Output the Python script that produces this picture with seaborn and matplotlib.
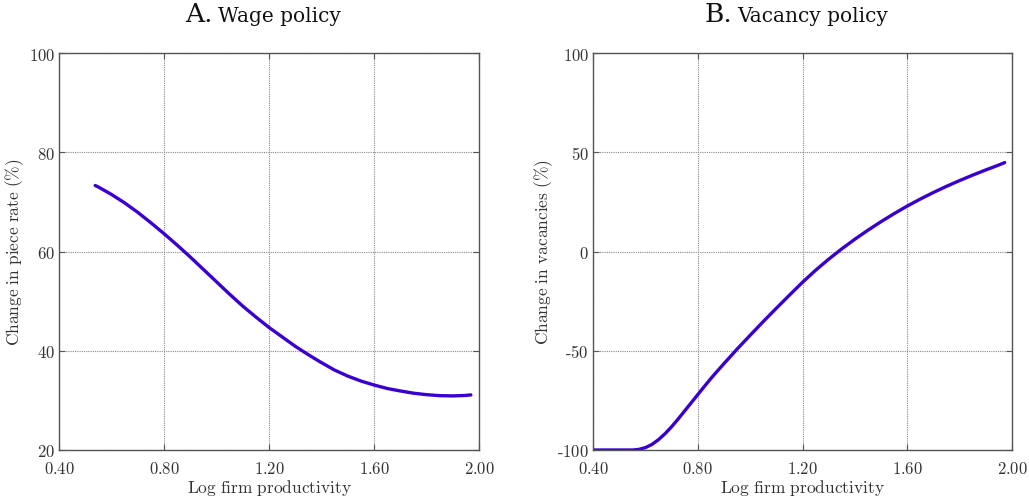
import numpy as np
import pandas as pd
import matplotlib
matplotlib.use("Agg")
import matplotlib.pyplot as plt
import seaborn as sns
from matplotlib.ticker import FixedLocator, FixedFormatter

# ---- data ----
wage_x = [0.538, 0.55, 0.60, 0.65, 0.70, 0.75, 0.80, 0.85, 0.90, 0.95, 1.00, 1.05,
          1.10, 1.15, 1.20, 1.25, 1.30, 1.35, 1.40, 1.45, 1.50, 1.55, 1.60, 1.65,
          1.70, 1.75, 1.80, 1.85, 1.90, 1.95, 1.969]
wage_y = [73.3, 73.0, 71.5, 69.8, 67.9, 65.8, 63.6, 61.3, 58.9, 56.4, 53.9, 51.4,
          49.0, 46.8, 44.7, 42.8, 40.9, 39.2, 37.6, 36.1, 34.9, 33.9, 33.1, 32.4,
          31.9, 31.45, 31.15, 30.95, 30.9, 31.0, 31.1]

vac_x = [0.40, 0.48, 0.553, 0.575, 0.60, 0.625, 0.65, 0.675, 0.70, 0.725, 0.75, 0.775,
         0.80, 0.825, 0.85, 0.875, 0.90, 0.95, 1.00, 1.05, 1.10, 1.15, 1.20, 1.25,
         1.30, 1.35, 1.40, 1.45, 1.50, 1.55, 1.60, 1.65, 1.70, 1.75, 1.80, 1.85,
         1.90, 1.95, 1.972]
vac_y = [-100.0, -100.0, -100.0, -99.7, -98.8, -97.2, -94.8, -91.8, -88.3, -84.4, -80.3, -76.2,
         -72.1, -68.0, -64.0, -60.2, -56.5, -49.2, -42.2, -35.3, -28.6, -22.0, -15.5, -9.45,
         -3.85, 1.35, 6.2, 10.75, 15.05, 19.1, 22.9, 26.45, 29.75, 32.85, 35.75, 38.5,
         41.1, 43.6, 44.8]

x_ticks = [0.40, 0.80, 1.20, 1.60, 2.00]
x_tick_labels = ["0.40", "0.80", "1.20", "1.60", "2.00"]
wage_ticks = [20, 40, 60, 80, 100]
wage_tick_labels = ["20", "40", "60", "80", "100"]
vac_ticks = [-100, -50, 0, 50, 100]
vac_tick_labels = ["-100", "-50", "0", "50", "100"]

panel_letters = ["A.", "B."]
panel_titles = ["Wage policy", "Vacancy policy"]
y_labels = ["Change in piece rate (%)", "Change in vacancies (%)"]
x_label = "Log firm productivity"


def cm(s):
    """Render plain text in Computer Modern via mathtext (hyphen kept short)."""
    s = s.replace("%", r"\%").replace(" ", r"\ ").replace("-", r"\text{-}")
    return r"$\mathrm{" + s + "}$"


sns.set_style("ticks")
plt.rcParams["font.family"] = ["DejaVu Serif"]
plt.rcParams["mathtext.fontset"] = "cm"

line_color = "#3a00d2"
spine_color = "#555555"
text_color = "#333333"

fig = plt.figure(figsize=(10.29, 5.02), dpi=100)
ax1 = fig.add_axes([0.0573, 0.1016, 0.4082, 0.7908])
ax2 = fig.add_axes([0.5763, 0.1016, 0.4072, 0.7908])

df_w = pd.DataFrame({"x": wage_x, "y": wage_y})
df_v = pd.DataFrame({"x": vac_x, "y": vac_y})

sns.lineplot(data=df_w, x="x", y="y", ax=ax1, color=line_color, linewidth=2.4, sort=False)
sns.lineplot(data=df_v, x="x", y="y", ax=ax2, color=line_color, linewidth=2.4, sort=False)

specs = [(ax1, (20, 100), wage_ticks, wage_tick_labels),
         (ax2, (-100, 100), vac_ticks, vac_tick_labels)]
for i, (ax, ylim, yt, ytl) in enumerate(specs):
    ax.set_xlim(0.40, 2.00)
    ax.set_ylim(*ylim)
    ax.xaxis.set_major_locator(FixedLocator(x_ticks))
    ax.xaxis.set_major_formatter(FixedFormatter([cm(t) for t in x_tick_labels]))
    ax.yaxis.set_major_locator(FixedLocator(yt))
    ax.yaxis.set_major_formatter(FixedFormatter([cm(t) for t in ytl]))
    ax.grid(True, linestyle=(0, (1, 1)), color="#8a8a8a", linewidth=0.8)
    ax.set_axisbelow(True)
    for s in ax.spines.values():
        s.set_visible(True)
        s.set_color(spine_color)
        s.set_linewidth(1.0)
    ax.tick_params(direction="in", length=4, width=0.8, color=spine_color,
                   top=True, right=True, labelsize=12, labelcolor=text_color)
    ax.tick_params(axis="x", pad=7)
    ax.tick_params(axis="y", pad=3)
    ax.set_xlabel(cm(x_label), fontsize=12.5, color=text_color, labelpad=0)
    ax.set_ylabel(cm(y_labels[i]), fontsize=12.5, color=text_color, labelpad=1.5)
    ax.text(0.5, 1.08, panel_letters[i], transform=ax.transAxes, ha="right",
            va="baseline", fontsize=19, family="DejaVu Serif", color="#111111")
    ax.text(0.5, 1.08, panel_titles[i], transform=ax.transAxes, ha="left",
            va="baseline", fontsize=14.5, family="DejaVu Serif", color="#111111")

# centre "A. Wage policy" as a whole (slightly left of the axes centre)
fig.canvas.draw()
r = fig.canvas.get_renderer()
gap_px = 5
for ax in (ax1, ax2):
    t_letter, t_title = ax.texts[-2], ax.texts[-1]
    w1 = t_letter.get_window_extent(r).width
    w2 = t_title.get_window_extent(r).width
    axw = ax.get_window_extent(r).width
    total = w1 + gap_px + w2
    start = axw / 2 - 6 - total / 2
    t_letter.set_x((start + w1) / axw)
    t_title.set_x((start + w1 + gap_px) / axw)

fig.savefig("out.png", dpi=100)
